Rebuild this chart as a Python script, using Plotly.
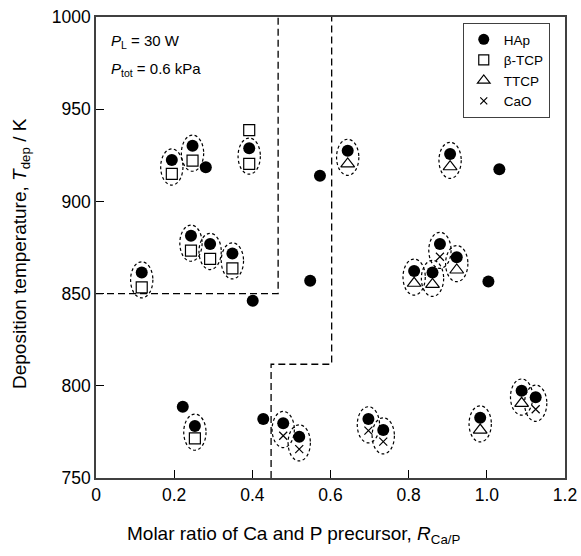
import plotly.graph_objects as go

# ---- data ----
hap_R = [0.194, 0.247, 0.281, 0.392, 0.573, 0.644, 0.906, 1.032,
         0.117, 0.243, 0.292, 0.349, 0.401, 0.548, 0.880, 0.814, 0.861, 0.923, 1.004,
         0.222, 0.253, 0.428, 0.479, 0.520, 0.697, 0.735, 0.983, 1.089, 1.125]
hap_T = [922.4, 930.2, 918.5, 928.8, 913.9, 927.5, 925.7, 917.4,
         861.5, 881.4, 876.9, 871.8, 846.1, 857.0, 876.9, 862.3, 861.5, 869.7, 856.5,
         788.7, 778.2, 782.0, 779.7, 772.4, 782.0, 776.0, 782.7, 797.3, 793.8]

tcp_R = [0.194, 0.247, 0.392, 0.392, 0.117, 0.243, 0.292, 0.349, 0.253]
tcp_T = [914.9, 922.1, 938.7, 920.3, 853.4, 873.3, 868.8, 863.7, 771.5]

ttcp_R = [0.644, 0.906, 0.814, 0.861, 0.923, 0.983, 1.089]
ttcp_T = [920.3, 918.8, 855.6, 855.0, 862.8, 776.0, 790.5]

cao_R = [0.880, 0.479, 0.520, 0.697, 0.735, 1.125]
cao_T = [870.0, 772.9, 765.7, 775.7, 769.7, 787.3]

# phase-boundary (dashed) lines
bound1_R = [0.0, 0.466, 0.466]
bound1_T = [850, 850, 1000]
bound2_R = [0.448, 0.448, 0.603, 0.603]
bound2_T = [750, 811.7, 811.7, 1000]

x_ticks = [0, 0.2, 0.4, 0.6, 0.8, 1.0, 1.2]
x_ticktext = ["0", "0.2", "0.4", "0.6", "0.8", "1.0", "1.2"]
y_ticks = [750, 800, 850, 900, 950, 1000]

# ---- style ----
FONT = "Liberation Sans, Arial, Helvetica, sans-serif"
INK = "#000000"
AX = "#404040"
ELL_HW = 0.0285   # half width of grouping ellipse (data units)
ELL_HH = 9.8      # half height of grouping ellipse (data units)

fig = go.Figure()

# boundaries
for bx, by in [(bound1_R, bound1_T), (bound2_R, bound2_T)]:
    fig.add_trace(go.Scatter(x=bx, y=by, mode="lines", showlegend=False, hoverinfo="skip",
                             line=dict(color=INK, width=1.3, dash="7px,4px")))

# grouping ellipses: a secondary phase sharing a sample with HAp (just below the HAp point)
shapes = []
for others_R, others_T in [(tcp_R, tcp_T), (ttcp_R, ttcp_T), (cao_R, cao_T)]:
    for r, t in zip(others_R, others_T):
        for hr, ht in zip(hap_R, hap_T):
            if abs(hr - r) < 0.01 and 0 < ht - t < 12:
                cx = (hr + r) / 2
                cy = (ht + t) / 2
                shapes.append(dict(type="circle", xref="x", yref="y",
                                   x0=cx - ELL_HW, x1=cx + ELL_HW,
                                   y0=cy - ELL_HH, y1=cy + ELL_HH,
                                   line=dict(color=INK, width=1.2, dash="3px,2.5px"),
                                   layer="below"))

# data markers
fig.add_trace(go.Scatter(x=hap_R, y=hap_T, mode="markers", showlegend=False,
                         marker=dict(symbol="circle", size=12, color=INK, line=dict(width=0))))
fig.add_trace(go.Scatter(x=tcp_R, y=tcp_T, mode="markers", showlegend=False,
                         marker=dict(symbol="square", size=11, color="white",
                                     line=dict(color=INK, width=1.2))))
fig.add_trace(go.Scatter(x=ttcp_R, y=ttcp_T, mode="markers", showlegend=False,
                         marker=dict(symbol="triangle-up", size=12, color="white",
                                     line=dict(color=INK, width=1.2))))
fig.add_trace(go.Scatter(x=cao_R, y=cao_T, mode="markers", showlegend=False,
                         marker=dict(symbol="x-thin", size=8, color=INK,
                                     line=dict(color=INK, width=1.2))))

# legend-only entries
legend_items = [
    ("HAp", dict(symbol="circle", size=11, color=INK, line=dict(width=0))),
    ("β-TCP", dict(symbol="square", size=10, color="white", line=dict(color=INK, width=1.2))),
    ("TTCP", dict(symbol="triangle-up", size=11, color="white", line=dict(color=INK, width=1.2))),
    ("CaO", dict(symbol="x-thin", size=7, color=INK, line=dict(color=INK, width=1.2))),
]
for name, mk in legend_items:
    fig.add_trace(go.Scatter(x=[None], y=[None], mode="markers", name=name, marker=mk))

annotations = [
    dict(text="<i>P</i><sub>L</sub> = 30 W", xref="paper", yref="paper", x=0.027, y=0.946,
         xanchor="left", yanchor="middle", showarrow=False, font=dict(size=15, color=INK, family=FONT)),
    dict(text="<i>P</i><sub>tot</sub> = 0.6 kPa", xref="paper", yref="paper", x=0.027, y=0.887,
         xanchor="left", yanchor="middle", showarrow=False, font=dict(size=15, color=INK, family=FONT)),
    dict(text="Molar ratio of Ca and P precursor, <i>R</i><sub>Ca/P</sub>", xref="paper", yref="paper",
         x=0.422, y=-0.124, xanchor="center", yanchor="middle", showarrow=False,
         font=dict(size=19, color=INK, family=FONT)),
    dict(text="Deposition temperature, <i>T</i><sub>dep</sub> / K", xref="paper", yref="paper",
         x=-0.16, y=0.488, xanchor="center", yanchor="middle", textangle=-90, showarrow=False,
         font=dict(size=19, color=INK, family=FONT)),
]

fig.update_layout(
    width=581, height=556,
    margin=dict(l=96, r=16, t=17, b=78, autoexpand=False),
    paper_bgcolor="white", plot_bgcolor="white",
    font=dict(family=FONT, color=INK, size=18),
    shapes=shapes,
    annotations=annotations,
    legend=dict(x=0.782, y=0.987, xanchor="left", yanchor="top",
                bordercolor=AX, borderwidth=1, bgcolor="white",
                font=dict(size=13.5, family=FONT, color=INK),
                itemwidth=30, tracegroupgap=0),
)
fig.update_xaxes(range=[0, 1.2], tickvals=x_ticks, ticktext=x_ticktext, automargin=False,
                 ticks="inside", ticklen=8, tickwidth=1.3, tickcolor=INK,
                 showline=True, linecolor=AX, linewidth=1.5, mirror=True,
                 showgrid=False, zeroline=False, tickfont=dict(size=17.5, color=INK))
fig.update_yaxes(range=[750, 1000], tickvals=y_ticks, automargin=False,
                 ticks="inside", ticklen=8, tickwidth=1.3, tickcolor=INK,
                 showline=True, linecolor=AX, linewidth=1.5, mirror=True,
                 showgrid=False, zeroline=False, tickfont=dict(size=17.5, color=INK))

fig.write_html("out.html", config={"displayModeBar": False},
               post_script="document.body.style.margin='0px';document.body.style.overflow='hidden';")
